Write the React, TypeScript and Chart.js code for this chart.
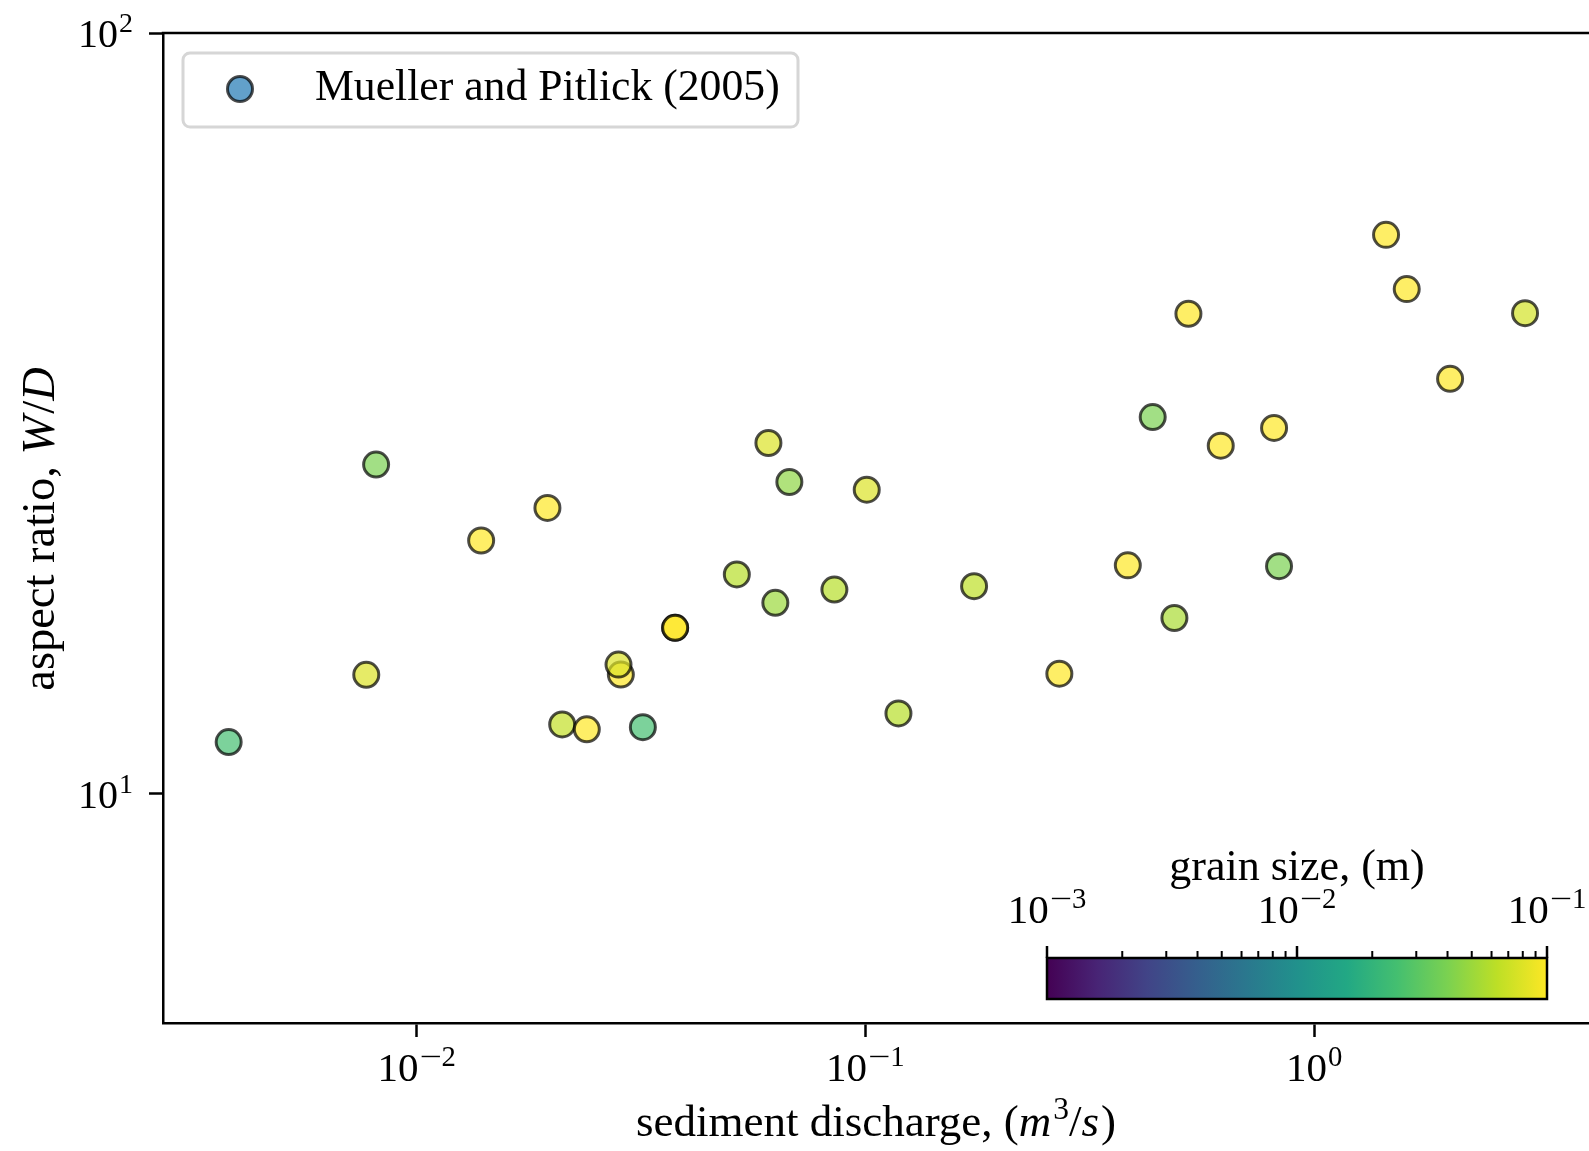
import React, { useEffect, useRef } from 'react';
import { Chart, registerables } from 'chart.js';

Chart.register(...registerables);

// ---- data ----
// sediment discharge (m^3/s)
const sedimentDischarge = [
  0.00381, 0.00772, 0.00812, 0.01392, 0.01956, 0.0211, 0.02394, 0.02851,
  0.02817, 0.03192, 0.03767, 0.03767, 0.0517, 0.0608, 0.063, 0.0677,
  0.0853, 0.1007, 0.1185, 0.1747, 0.2706, 0.3845, 0.4369, 0.4884,
  0.5248, 0.6195, 0.8145, 0.8355, 1.447, 1.609, 2.01, 2.953,
];
// aspect ratio W/D
const aspectRatio = [
  11.7, 14.34, 27.09, 21.53, 23.76, 12.34, 12.16, 14.35,
  14.79, 12.24, 16.53, 16.53, 19.43, 28.92, 17.83, 25.7,
  18.56, 25.11, 12.76, 18.75, 14.39, 19.97, 31.28, 17.03,
  42.76, 28.69, 30.27, 19.92, 54.29, 46.07, 35.12, 42.84,
];
// grain size (m), coloured on a log viridis scale
const grainSize = [
  0.0251, 0.079, 0.0398, 0.1, 0.1, 0.066, 0.1, 0.1,
  0.079, 0.0251, 0.1, 0.1, 0.0603, 0.079, 0.0501, 0.0457,
  0.0603, 0.079, 0.0603, 0.063, 0.1, 0.1, 0.0398, 0.055,
  0.1, 0.1, 0.1, 0.0398, 0.1, 0.1, 0.1, 0.074,
];

const xTickExponents = [-2, -1, 0];
const yTickExponents = [1, 2];
const colorbarTickExponents = [-3, -2, -1];
const legendLabel = 'Mueller and Pitlick (2005)';
const colorbarTitle = 'grain size, (m)';
const yTitlePlain = 'aspect ratio, ';
const yTitleMath = ['W', '/', 'D'];
const xTitlePlain = 'sediment discharge, (';

const FONT = '"Liberation Serif", "Times New Roman", serif';

const VIRIDIS = [
  [68, 1, 84], [72, 36, 117], [65, 68, 135], [53, 95, 141], [42, 120, 142],
  [33, 145, 140], [34, 168, 132], [68, 191, 112], [122, 209, 81],
  [189, 223, 38], [253, 231, 37],
];

function viridis(t: number): number[] {
  const c = Math.max(0, Math.min(1, t)) * (VIRIDIS.length - 1);
  const i = Math.min(VIRIDIS.length - 2, Math.floor(c));
  const f = c - i;
  return VIRIDIS[i].map((v, k) => Math.round(v + (VIRIDIS[i + 1][k] - v) * f));
}

const CMIN = -3;
const CMAX = -1;
function grainColor(g: number, alpha: number) {
  const t = (Math.log10(g) - CMIN) / (CMAX - CMIN);
  const [r, gg, b] = viridis(t);
  return `rgba(${r},${gg},${b},${alpha})`;
}

function drawPow(ctx: CanvasRenderingContext2D, x: number, baseline: number, exp: number, align: string, size: number) {
  const expSize = size * 0.7;
  const base = '10';
  const minus = exp < 0 ? '\u2212' : '';
  const digits = String(Math.abs(exp));
  ctx.font = `${size}px ${FONT}`;
  const w1 = ctx.measureText(base).width;
  ctx.font = `${expSize}px ${FONT}`;
  const pad = minus ? 3 : 0;
  const wm = minus ? ctx.measureText(minus).width + 2 * pad : 0;
  const wd = ctx.measureText(digits).width;
  const gap = 1;
  const total = w1 + gap + wm + wd;
  const sx = align === 'center' ? x - total / 2 : align === 'right' ? x - total : x;
  ctx.textAlign = 'left';
  ctx.textBaseline = 'alphabetic';
  ctx.fillStyle = '#000';
  ctx.font = `${size}px ${FONT}`;
  ctx.fillText(base, sx, baseline);
  ctx.font = `${expSize}px ${FONT}`;
  const ey = baseline - size * 0.37;
  if (minus) {
    ctx.save();
    const mx = sx + w1 + gap;
    ctx.translate(mx, ey);
    ctx.scale((wm) / (wm - 2 * pad), 1);
    ctx.fillText(minus, 0, 0);
    ctx.restore();
  }
  ctx.fillText(digits, sx + w1 + gap + wm, ey);
}

type Piece = { t: string; italic?: boolean; sup?: boolean };

function drawPieces(ctx: CanvasRenderingContext2D, pieces: Piece[], cx: number, baseline: number, size: number) {
  const fontOf = (p: Piece) => `${p.italic ? 'italic ' : ''}${p.sup ? size * 0.7 : size}px ${FONT}`;
  let total = 0;
  const widths = pieces.map((p) => {
    ctx.font = fontOf(p);
    const w = ctx.measureText(p.t).width + (p.italic ? 2 : 0);
    total += w;
    return w;
  });
  let x = cx - total / 2;
  ctx.textAlign = 'left';
  ctx.textBaseline = 'alphabetic';
  ctx.fillStyle = '#000';
  pieces.forEach((p, i) => {
    ctx.font = fontOf(p);
    ctx.fillText(p.t, x, p.sup ? baseline - size * 0.37 : baseline);
    x += widths[i];
  });
}

const overlayPlugin = {
  id: 'overlay',
  afterDraw(chart: any) {
    const ctx: CanvasRenderingContext2D = chart.ctx;
    const { left, right, top, bottom } = chart.chartArea;
    const xs = chart.scales.x;
    const ys = chart.scales.y;
    ctx.save();

    // top spine
    ctx.strokeStyle = '#000';
    ctx.lineWidth = 2.5;
    ctx.beginPath();
    ctx.moveTo(left - 1.25, top);
    ctx.lineTo(right, top);
    ctx.stroke();

    // tick labels
    xs.ticks.forEach((t: any) => {
      const e = Math.round(Math.log10(t.value));
      drawPow(ctx, xs.getPixelForValue(t.value), bottom + 58, e, 'center', 41);
    });
    ys.ticks.forEach((t: any) => {
      const e = Math.round(Math.log10(t.value));
      drawPow(ctx, left - 30, ys.getPixelForValue(t.value) + 14, e, 'right', 40);
    });

    // x title
    drawPieces(ctx, [
      { t: xTitlePlain },
      { t: 'm', italic: true },
      { t: '3', sup: true },
      { t: '/' },
      { t: 's', italic: true },
      { t: ')' },
    ], (left + right) / 2, 1136, 45);

    // y title (rotated)
    ctx.save();
    ctx.translate(54, (top + bottom) / 2);
    ctx.rotate(-Math.PI / 2);
    drawPieces(ctx, [
      { t: yTitlePlain },
      { t: yTitleMath[0], italic: true },
      { t: yTitleMath[1] },
      { t: yTitleMath[2], italic: true },
    ], 0, 0, 46.5);
    ctx.restore();

    // legend
    const lx = 183, ly = 53, lw = 615, lh = 74, rad = 7;
    ctx.beginPath();
    ctx.moveTo(lx + rad, ly);
    ctx.arcTo(lx + lw, ly, lx + lw, ly + lh, rad);
    ctx.arcTo(lx + lw, ly + lh, lx, ly + lh, rad);
    ctx.arcTo(lx, ly + lh, lx, ly, rad);
    ctx.arcTo(lx, ly, lx + lw, ly, rad);
    ctx.closePath();
    ctx.fillStyle = 'rgba(255,255,255,0.8)';
    ctx.fill();
    ctx.strokeStyle = '#d6d6d6';
    ctx.lineWidth = 3;
    ctx.stroke();
    ctx.beginPath();
    ctx.arc(240, 89, 12.5, 0, Math.PI * 2);
    ctx.fillStyle = 'rgba(31,119,180,0.7)';
    ctx.fill();
    ctx.strokeStyle = 'rgba(0,0,0,0.7)';
    ctx.lineWidth = 3;
    ctx.stroke();
    ctx.fillStyle = '#000';
    ctx.font = `43.7px ${FONT}`;
    ctx.textAlign = 'left';
    ctx.textBaseline = 'alphabetic';
    ctx.fillText(legendLabel, 315, 100);

    // colorbar
    const cbL = 1047, cbR = 1547, cbT = 958, cbB = 999;
    const grad = ctx.createLinearGradient(cbL, 0, cbR, 0);
    VIRIDIS.forEach((c, i) => grad.addColorStop(i / (VIRIDIS.length - 1), `rgb(${c[0]},${c[1]},${c[2]})`));
    ctx.fillStyle = grad;
    ctx.fillRect(cbL, cbT, cbR - cbL, cbB - cbT);
    ctx.strokeStyle = '#000';
    ctx.lineWidth = 2.5;
    ctx.strokeRect(cbL, cbT, cbR - cbL, cbB - cbT);
    const cx = (v: number) => cbL + ((Math.log10(v) - CMIN) / (CMAX - CMIN)) * (cbR - cbL);
    ctx.lineWidth = 2;
    for (let e = CMIN; e < CMAX; e++) {
      for (let k = 2; k <= 9; k++) {
        const px = cx(k * Math.pow(10, e));
        ctx.beginPath();
        ctx.moveTo(px, cbT);
        ctx.lineTo(px, cbT - 7);
        ctx.stroke();
      }
    }
    ctx.lineWidth = 2.5;
    colorbarTickExponents.forEach((e) => {
      const px = cx(Math.pow(10, e));
      ctx.beginPath();
      ctx.moveTo(px, cbT);
      ctx.lineTo(px, cbT - 12);
      ctx.stroke();
      drawPow(ctx, px, cbT - 35, e, 'center', 41);
    });
    ctx.fillStyle = '#000';
    ctx.font = `44px ${FONT}`;
    ctx.textAlign = 'center';
    ctx.textBaseline = 'alphabetic';
    ctx.fillText(colorbarTitle, (cbL + cbR) / 2, 880);

    ctx.restore();
  },
};

export default function App() {
  const ref = useRef<HTMLCanvasElement>(null);
  useEffect(() => {
    document.body.style.margin = '0';
    document.body.style.overflow = 'hidden';
    const points = sedimentDischarge.map((x, i) => ({ x, y: aspectRatio[i] }));
    const chart = new Chart(ref.current as HTMLCanvasElement, {
      type: 'scatter',
      data: {
        datasets: [
          {
            label: legendLabel,
            data: points,
            pointRadius: 12.5,
            pointHoverRadius: 12.5,
            pointBorderWidth: 3,
            pointBackgroundColor: grainSize.map((g) => grainColor(g, 0.7)),
            pointBorderColor: 'rgba(0,0,0,0.7)',
            showLine: false,
          },
        ],
      },
      options: {
        animation: false,
        responsive: false,
        devicePixelRatio: 1,
        layout: { autoPadding: false, padding: { top: 33, left: 0, right: 0, bottom: 0 } },
        plugins: { legend: { display: false }, tooltip: { enabled: false } },
        scales: {
          x: {
            type: 'logarithmic',
            position: 'bottom',
            min: 0.00272,
            max: 4.1,
            afterBuildTicks: (s: any) => {
              s.ticks = xTickExponents.map((e) => ({ value: Math.pow(10, e) }));
            },
            afterFit: (s: any) => {
              s.height = 128;
            },
            ticks: { display: false },
            grid: { drawOnChartArea: false, drawTicks: true, tickLength: 14, tickWidth: 2.5, tickColor: '#000' },
            border: { display: true, width: 2.5, color: '#000' },
          },
          y: {
            type: 'logarithmic',
            position: 'left',
            min: 5,
            max: 100,
            afterBuildTicks: (s: any) => {
              s.ticks = yTickExponents.map((e) => ({ value: Math.pow(10, e) }));
            },
            afterFit: (s: any) => {
              s.width = 163;
            },
            ticks: { display: false },
            grid: { drawOnChartArea: false, drawTicks: true, tickLength: 14, tickWidth: 2.5, tickColor: '#000' },
            border: { display: true, width: 2.5, color: '#000' },
          },
        },
      } as any,
      plugins: [overlayPlugin],
    });
    return () => chart.destroy();
  }, []);
  return (
    <div style={{ width: 1589, height: 1151, background: '#fff', overflow: 'hidden' }}>
      <canvas ref={ref} width={1589} height={1151} style={{ display: 'block' }} />
    </div>
  );
}
